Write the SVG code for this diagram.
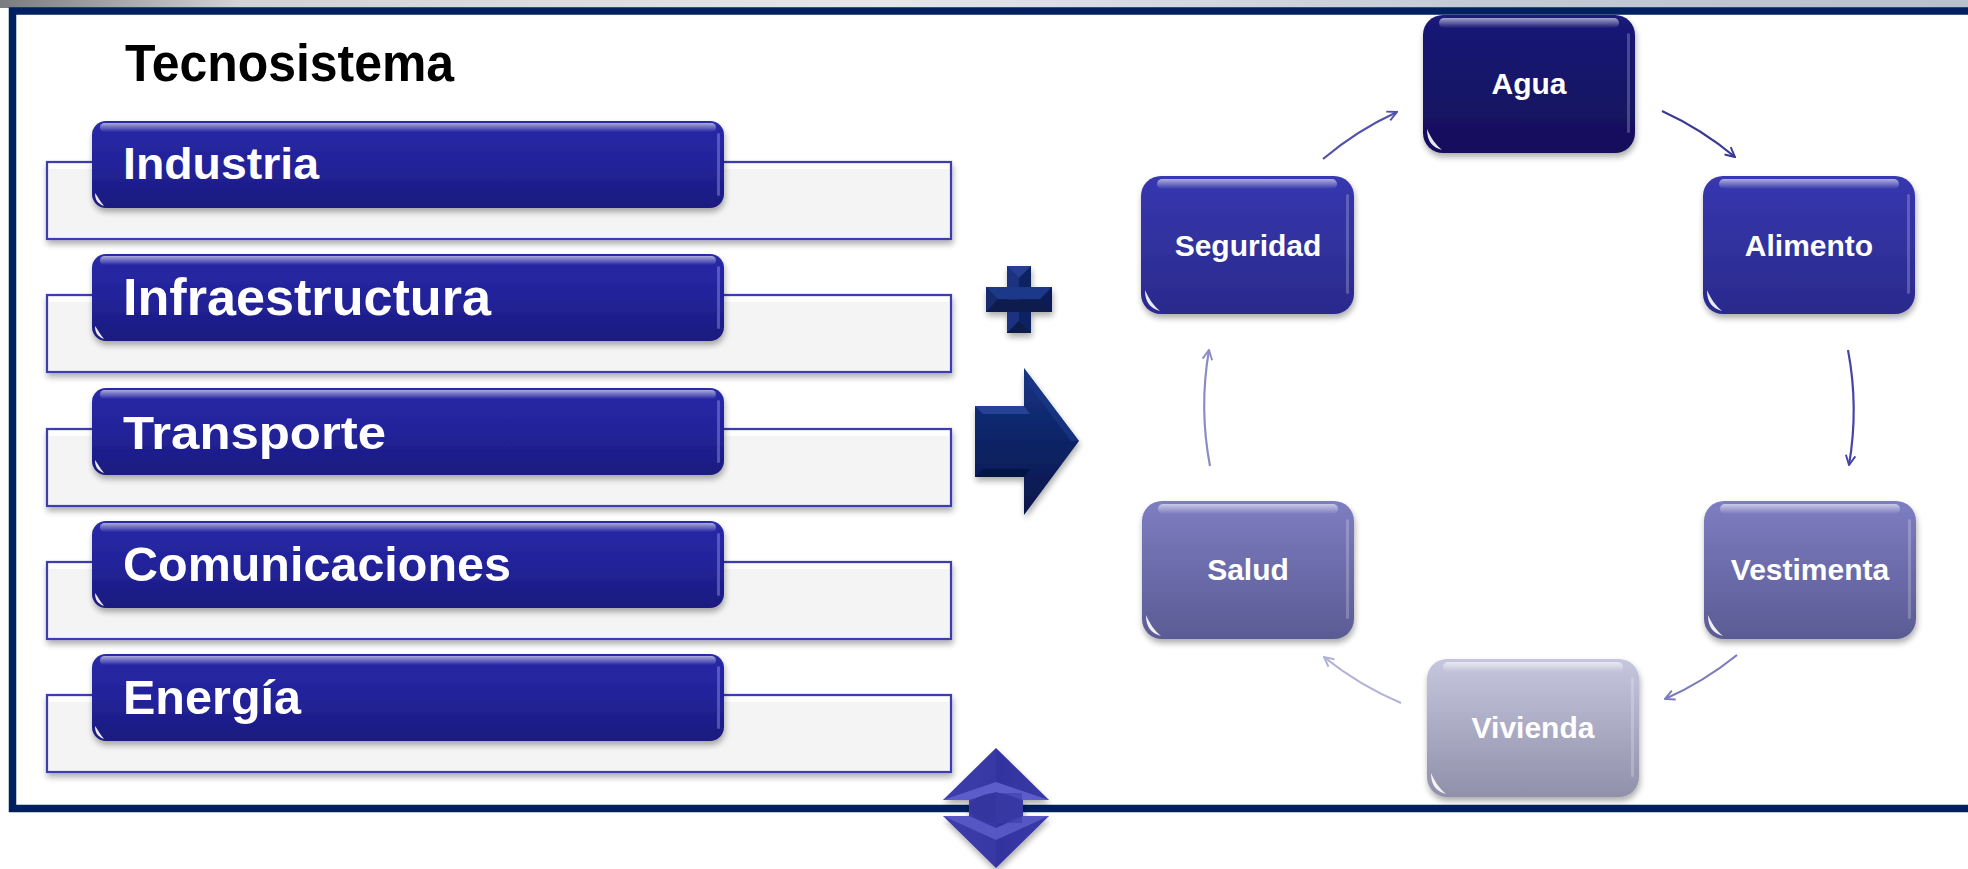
<svg xmlns="http://www.w3.org/2000/svg" width="1968" height="869" viewBox="0 0 1968 869">
<style>
.t{font-family:"Liberation Sans",Arial,sans-serif;font-weight:bold;fill:#ffffff}
.title{font-family:"Liberation Sans",Arial,sans-serif;font-weight:bold;fill:#000000}
.lbox{fill:#f4f4f4;stroke:#3d3daf;stroke-width:2.2}
.conn{fill:none;stroke-width:2.2}
.redge{fill:#b4b4ff;opacity:0.35}
.nedge{fill:#ffffff;opacity:0.22}
</style>
<defs>
<linearGradient id="topband" x1="0" y1="0" x2="1" y2="0">
<stop offset="0" stop-color="#7a7c80"/><stop offset="0.12" stop-color="#d0d2d6"/><stop offset="0.45" stop-color="#e4e6ea"/><stop offset="0.75" stop-color="#c4cad4"/><stop offset="1" stop-color="#b8c0cc"/>
</linearGradient>
<radialGradient id="haze" cx="0.5" cy="0" r="0.5">
<stop offset="0" stop-color="#c6cad4" stop-opacity="0.55"/><stop offset="1" stop-color="#c6cad4" stop-opacity="0"/>
</radialGradient>
<linearGradient id="gDark" x1="0" y1="0" x2="0" y2="1">
<stop offset="0" stop-color="#2a2aa8"/><stop offset="0.5" stop-color="#22229a"/><stop offset="1" stop-color="#1b1b7e"/>
</linearGradient>
<linearGradient id="gAgua" x1="0" y1="0" x2="0" y2="1">
<stop offset="0" stop-color="#1a1a78"/><stop offset="1" stop-color="#120f5a"/>
</linearGradient>
<linearGradient id="gMid" x1="0" y1="0" x2="0" y2="1">
<stop offset="0" stop-color="#3737b0"/><stop offset="1" stop-color="#2a2a8c"/>
</linearGradient>
<linearGradient id="gLight" x1="0" y1="0" x2="0" y2="1">
<stop offset="0" stop-color="#7d7dc2"/><stop offset="1" stop-color="#5b5b94"/>
</linearGradient>
<linearGradient id="gPale" x1="0" y1="0" x2="0" y2="1">
<stop offset="0" stop-color="#c6c6df"/><stop offset="1" stop-color="#9090aa"/>
</linearGradient>
<linearGradient id="hlTop" x1="0" y1="0" x2="0" y2="1">
<stop offset="0" stop-color="#ffffff" stop-opacity="0.6"/><stop offset="1" stop-color="#ffffff" stop-opacity="0"/>
</linearGradient>
<linearGradient id="gArrow" x1="0" y1="0" x2="0" y2="1">
<stop offset="0" stop-color="#173483"/><stop offset="0.5" stop-color="#0d2466"/><stop offset="1" stop-color="#06164a"/>
</linearGradient>
<linearGradient id="gUD" x1="0" y1="0" x2="1" y2="0">
<stop offset="0" stop-color="#3d3dab"/><stop offset="0.5" stop-color="#3838a4"/><stop offset="0.5" stop-color="#3232a0"/><stop offset="1" stop-color="#3a3aa8"/>
</linearGradient>
<filter id="sh" x="-10%" y="-10%" width="125%" height="140%">
<feGaussianBlur in="SourceAlpha" stdDeviation="3"/>
<feOffset dx="1" dy="4"/>
<feComponentTransfer><feFuncA type="linear" slope="0.33"/></feComponentTransfer>
<feMerge><feMergeNode/><feMergeNode in="SourceGraphic"/></feMerge>
</filter>
<marker id="m1" viewBox="0 0 10 10" refX="9" refY="5" markerWidth="12" markerHeight="12" markerUnits="userSpaceOnUse" orient="auto"><path d="M1,1 L9,5 L1,9" fill="none" stroke="#5252ae" stroke-width="1.6"/></marker>
<marker id="m2" viewBox="0 0 10 10" refX="9" refY="5" markerWidth="12" markerHeight="12" markerUnits="userSpaceOnUse" orient="auto"><path d="M1,1 L9,5 L1,9" fill="none" stroke="#3a3a94" stroke-width="1.6"/></marker>
<marker id="m3" viewBox="0 0 10 10" refX="9" refY="5" markerWidth="12" markerHeight="12" markerUnits="userSpaceOnUse" orient="auto"><path d="M1,1 L9,5 L1,9" fill="none" stroke="#4545a8" stroke-width="1.6"/></marker>
<marker id="m4" viewBox="0 0 10 10" refX="9" refY="5" markerWidth="12" markerHeight="12" markerUnits="userSpaceOnUse" orient="auto"><path d="M1,1 L9,5 L1,9" fill="none" stroke="#7a7abe" stroke-width="1.6"/></marker>
<marker id="m5" viewBox="0 0 10 10" refX="9" refY="5" markerWidth="12" markerHeight="12" markerUnits="userSpaceOnUse" orient="auto"><path d="M1,1 L9,5 L1,9" fill="none" stroke="#b2b2d6" stroke-width="1.6"/></marker>
<marker id="m6" viewBox="0 0 10 10" refX="9" refY="5" markerWidth="12" markerHeight="12" markerUnits="userSpaceOnUse" orient="auto"><path d="M1,1 L9,5 L1,9" fill="none" stroke="#8c8cc4" stroke-width="1.6"/></marker>
</defs>

<rect x="0" y="0" width="1968" height="869" fill="#ffffff"/>
<rect x="0" y="0" width="1968" height="8" fill="url(#topband)"/>
<ellipse cx="1560" cy="16" rx="520" ry="70" fill="url(#haze)"/>

<g id="frame">
<path d="M1975,11 H12.5 V808.5 H1975" fill="none" stroke="#002060" stroke-width="7.5"/>
</g>

<text class="title" x="125" y="81" font-size="51" textLength="329" lengthAdjust="spacingAndGlyphs">Tecnosistema</text>

<!-- left list items -->
<g id="item-industria">
<rect class="lbox" x="47" y="162" width="904" height="77" filter="url(#sh)"/>
<rect x="49" y="164" width="900" height="5" fill="#ffffff" opacity="0.8"/>
<g filter="url(#sh)">
<rect x="92" y="121" width="632" height="87" rx="14" fill="url(#gDark)"/>
<rect x="100" y="123" width="616" height="9" rx="4.5" fill="url(#hlTop)"/>
<rect class="redge" x="717" y="133" width="3" height="63" rx="1.5"/>
<path d="M95,193 C95,200 98,204 104,206 C100,201 98,197 95,193 Z" fill="#ffffff" opacity="0.9"/>
</g>
<text class="t" x="123" y="179" font-size="45" textLength="196" lengthAdjust="spacingAndGlyphs">Industria</text>
</g>

<g id="item-infraestructura">
<rect class="lbox" x="47" y="295" width="904" height="77" filter="url(#sh)"/>
<rect x="49" y="297" width="900" height="5" fill="#ffffff" opacity="0.8"/>
<g filter="url(#sh)">
<rect x="92" y="254" width="632" height="87" rx="14" fill="url(#gDark)"/>
<rect x="100" y="256" width="616" height="9" rx="4.5" fill="url(#hlTop)"/>
<rect class="redge" x="717" y="266" width="3" height="63" rx="1.5"/>
<path d="M95,326 C95,333 98,337 104,339 C100,334 98,330 95,326 Z" fill="#ffffff" opacity="0.9"/>
</g>
<text class="t" x="123" y="315" font-size="52" textLength="368" lengthAdjust="spacingAndGlyphs">Infraestructura</text>
</g>

<g id="item-transporte">
<rect class="lbox" x="47" y="429" width="904" height="77" filter="url(#sh)"/>
<rect x="49" y="431" width="900" height="5" fill="#ffffff" opacity="0.8"/>
<g filter="url(#sh)">
<rect x="92" y="388" width="632" height="87" rx="14" fill="url(#gDark)"/>
<rect x="100" y="390" width="616" height="9" rx="4.5" fill="url(#hlTop)"/>
<rect class="redge" x="717" y="400" width="3" height="63" rx="1.5"/>
<path d="M95,460 C95,467 98,471 104,473 C100,468 98,464 95,460 Z" fill="#ffffff" opacity="0.9"/>
</g>
<text class="t" x="123" y="449" font-size="47" textLength="263" lengthAdjust="spacingAndGlyphs">Transporte</text>
</g>

<g id="item-comunicaciones">
<rect class="lbox" x="47" y="562" width="904" height="77" filter="url(#sh)"/>
<rect x="49" y="564" width="900" height="5" fill="#ffffff" opacity="0.8"/>
<g filter="url(#sh)">
<rect x="92" y="521" width="632" height="87" rx="14" fill="url(#gDark)"/>
<rect x="100" y="523" width="616" height="9" rx="4.5" fill="url(#hlTop)"/>
<rect class="redge" x="717" y="533" width="3" height="63" rx="1.5"/>
<path d="M95,593 C95,600 98,604 104,606 C100,601 98,597 95,593 Z" fill="#ffffff" opacity="0.9"/>
</g>
<text class="t" x="123" y="581" font-size="48" textLength="388" lengthAdjust="spacingAndGlyphs">Comunicaciones</text>
</g>

<g id="item-energia">
<rect class="lbox" x="47" y="695" width="904" height="77" filter="url(#sh)"/>
<rect x="49" y="697" width="900" height="5" fill="#ffffff" opacity="0.8"/>
<g filter="url(#sh)">
<rect x="92" y="654" width="632" height="87" rx="14" fill="url(#gDark)"/>
<rect x="100" y="656" width="616" height="9" rx="4.5" fill="url(#hlTop)"/>
<rect class="redge" x="717" y="666" width="3" height="63" rx="1.5"/>
<path d="M95,726 C95,733 98,737 104,739 C100,734 98,730 95,726 Z" fill="#ffffff" opacity="0.9"/>
</g>
<text class="t" x="123" y="714" font-size="48" textLength="178" lengthAdjust="spacingAndGlyphs">Energía</text>
</g>

<!-- plus sign -->
<g id="plus" filter="url(#sh)">
<path d="M1007,266 H1031 V287 H1052 V312 H1031 V333 H1007 V312 H986 V287 H1007 Z" fill="#0e2462"/>
<polygon points="1007,266 1019,278 1019,321 1007,333" fill="#1a3380"/>
<polygon points="1031,266 1019,278 1019,321 1031,333" fill="#0d2260"/>
<polygon points="1007,266 1031,266 1019,278" fill="#27408f"/>
<polygon points="1007,333 1031,333 1019,321" fill="#091a4a"/>
<polygon points="986,287 1052,287 1040,299.5 998,299.5" fill="#1d3888"/>
<polygon points="986,312 1052,312 1040,299.5 998,299.5" fill="#0a1b4e"/>
<polygon points="986,287 986,312 998,299.5" fill="#13296c"/>
<polygon points="1052,287 1052,312 1040,299.5" fill="#0c1f58"/>
</g>

<!-- right arrow -->
<g id="right-arrow" filter="url(#sh)">
<path d="M975,406 H1024 V368 L1079,441 L1024,515 V477 H975 Z" fill="url(#gArrow)"/>
<polygon points="975,406 1024,406 1030,414 983,414" fill="#2a4a9e" opacity="0.8"/>
<polygon points="975,477 1024,477 1030,469 983,469" fill="#051240" opacity="0.8"/>
<polygon points="1024,368 1079,441 1071,441 1030,386" fill="#1b3a8c" opacity="0.6"/>
</g>

<!-- up-down arrow -->
<g id="updown-arrow" filter="url(#sh)">
<path d="M996,748 L1049,800 H1023 V816 H1049 L996,868 L943,816 H969 V800 H943 Z" fill="url(#gUD)"/>
<polygon points="943,800 996,782 1049,800 1023,800 996,792 969,800" fill="#5c5cca"/>
<polygon points="943,816 969,816 996,828 1023,816 1049,816 996,840" fill="#5656c4"/>
<ellipse cx="996" cy="808" rx="26" ry="15" fill="#35359f"/>
<rect x="996" y="793" width="26" height="30" fill="#3b3baa" opacity="0.6"/>
</g>

<!-- connectors -->
<g id="connectors">
<path class="conn" d="M1323,159 A323,323 0 0 1 1397,112" stroke="#5252ae" marker-end="url(#m1)"/>
<path class="conn" d="M1662,111 A323,323 0 0 1 1735,157" stroke="#3a3a94" marker-end="url(#m2)"/>
<path class="conn" d="M1848,350 A323,323 0 0 1 1849,465" stroke="#4545a8" marker-end="url(#m3)"/>
<path class="conn" d="M1737,655 A323,323 0 0 1 1665,699" stroke="#7a7abe" marker-end="url(#m4)"/>
<path class="conn" d="M1401,703 A323,323 0 0 1 1324,657" stroke="#b2b2d6" marker-end="url(#m5)"/>
<path class="conn" d="M1210,466 A323,323 0 0 1 1209,350" stroke="#8c8cc4" marker-end="url(#m6)"/>
</g>

<!-- cycle nodes -->
<g id="node-agua">
<g filter="url(#sh)">
<rect x="1423" y="15" width="212" height="138" rx="20" fill="url(#gAgua)"/>
<rect x="1439" y="18" width="180" height="10" rx="5" fill="url(#hlTop)"/>
<rect class="nedge" x="1627" y="33" width="3" height="100" rx="1.5"/>
<path d="M1427,129 C1427,141 1432,147 1442,150 C1435,144 1431,138 1427,129 Z" fill="#ffffff" opacity="0.9"/>
</g>
<text class="t" x="1529" y="94" font-size="30" text-anchor="middle">Agua</text>
</g>

<g id="node-alimento">
<g filter="url(#sh)">
<rect x="1703" y="176" width="212" height="138" rx="20" fill="url(#gMid)"/>
<rect x="1719" y="179" width="180" height="10" rx="5" fill="url(#hlTop)"/>
<rect class="nedge" x="1907" y="194" width="3" height="100" rx="1.5"/>
<path d="M1707,290 C1707,302 1712,308 1722,311 C1715,305 1711,299 1707,290 Z" fill="#ffffff" opacity="0.9"/>
</g>
<text class="t" x="1809" y="256" font-size="30" text-anchor="middle">Alimento</text>
</g>

<g id="node-vestimenta">
<g filter="url(#sh)">
<rect x="1704" y="501" width="212" height="138" rx="20" fill="url(#gLight)"/>
<rect x="1720" y="504" width="180" height="10" rx="5" fill="url(#hlTop)"/>
<rect class="nedge" x="1908" y="519" width="3" height="100" rx="1.5"/>
<path d="M1708,615 C1708,627 1713,633 1723,636 C1716,630 1712,624 1708,615 Z" fill="#ffffff" opacity="0.9"/>
</g>
<text class="t" x="1810" y="580" font-size="30" text-anchor="middle">Vestimenta</text>
</g>

<g id="node-vivienda">
<g filter="url(#sh)">
<rect x="1427" y="659" width="212" height="138" rx="20" fill="url(#gPale)"/>
<rect x="1443" y="662" width="180" height="10" rx="5" fill="url(#hlTop)"/>
<rect class="nedge" x="1631" y="677" width="3" height="100" rx="1.5"/>
<path d="M1431,773 C1431,785 1436,791 1446,794 C1439,788 1435,782 1431,773 Z" fill="#ffffff" opacity="0.9"/>
</g>
<text class="t" x="1533" y="738" font-size="30" text-anchor="middle">Vivienda</text>
</g>

<g id="node-salud">
<g filter="url(#sh)">
<rect x="1142" y="501" width="212" height="138" rx="20" fill="url(#gLight)"/>
<rect x="1158" y="504" width="180" height="10" rx="5" fill="url(#hlTop)"/>
<rect class="nedge" x="1346" y="519" width="3" height="100" rx="1.5"/>
<path d="M1146,615 C1146,627 1151,633 1161,636 C1154,630 1150,624 1146,615 Z" fill="#ffffff" opacity="0.9"/>
</g>
<text class="t" x="1248" y="580" font-size="30" text-anchor="middle">Salud</text>
</g>

<g id="node-seguridad">
<g filter="url(#sh)">
<rect x="1141" y="176" width="213" height="138" rx="20" fill="url(#gMid)"/>
<rect x="1157" y="179" width="180" height="10" rx="5" fill="url(#hlTop)"/>
<rect class="nedge" x="1346" y="194" width="3" height="100" rx="1.5"/>
<path d="M1145,290 C1145,302 1150,308 1160,311 C1153,305 1149,299 1145,290 Z" fill="#ffffff" opacity="0.9"/>
</g>
<text class="t" x="1248" y="256" font-size="30" text-anchor="middle">Seguridad</text>
</g>
</svg>
